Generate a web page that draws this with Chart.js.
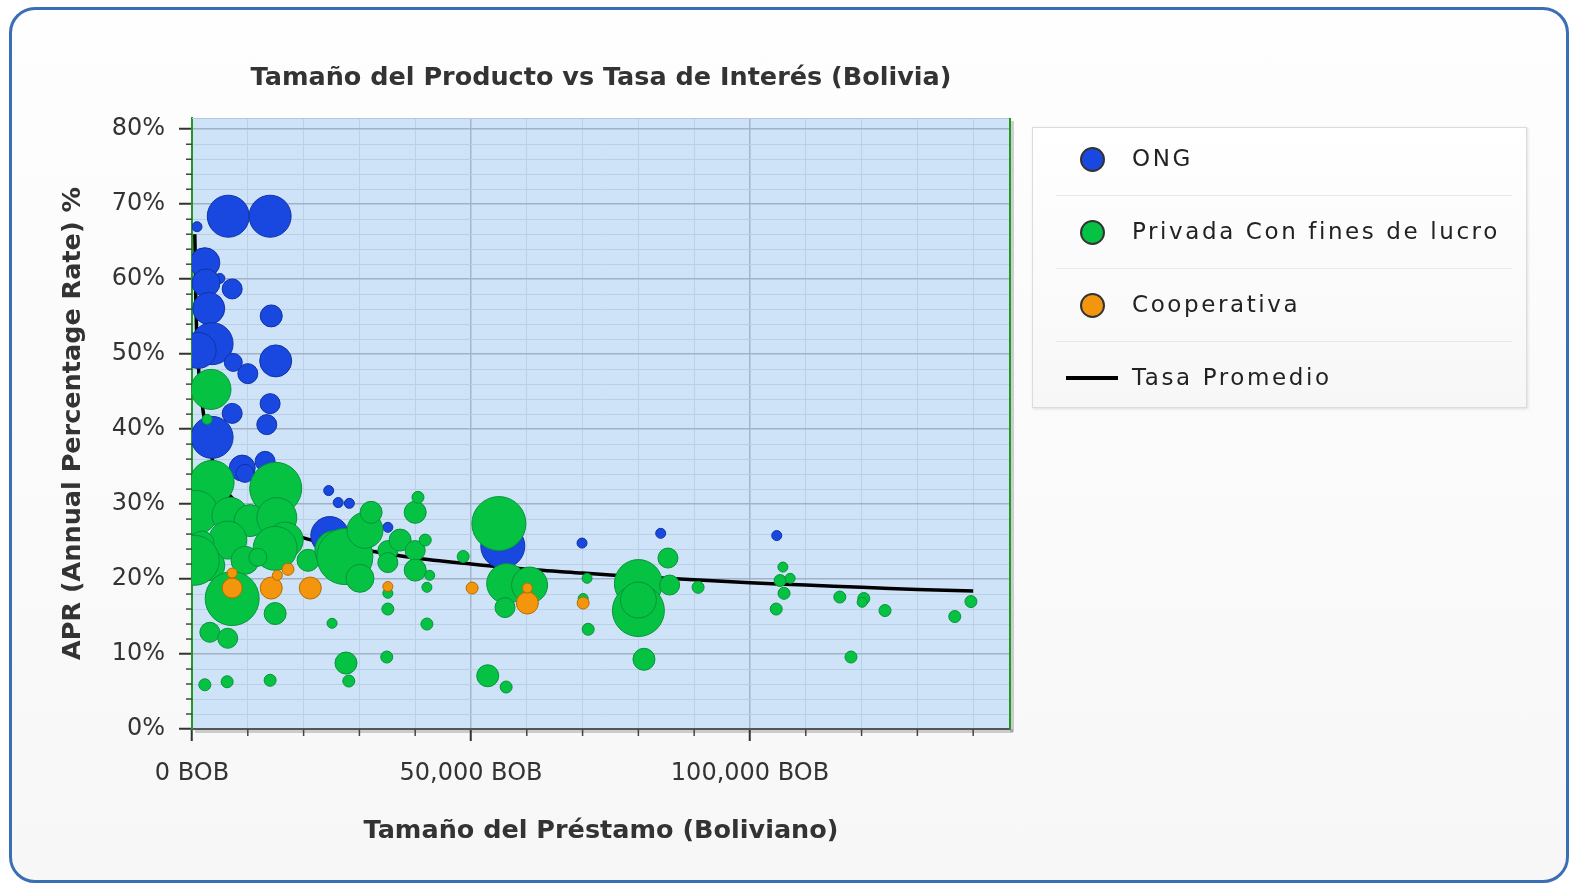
<!DOCTYPE html>
<html>
<head>
<meta charset="utf-8">
<title>Tamaño del Producto vs Tasa de Interés (Bolivia)</title>
<script src="https://cdn.jsdelivr.net/npm/chart.js@4.4.1/dist/chart.umd.min.js"></script>
<style>
  html, body { margin: 0; padding: 0; background: #fff; }
  body { width: 1571px; height: 885px; position: relative; overflow: hidden; font-family: 'DejaVu Sans', sans-serif; }
  .frame { position: absolute; left: 9px; top: 7px; width: 1554px; height: 870px; border: 3px solid #3a6fb5; border-radius: 26px; background: linear-gradient(#fefefe, #f7f7f7); }
  .chart-wrap { position: absolute; left: 0; top: 0; width: 1571px; height: 885px; }
  .legend { position: absolute; left: 1032px; top: 127px; width: 493px; height: 279px; border: 1px solid #dcdcdc; background: linear-gradient(#fff, #f7f7f7); box-shadow: 1px 1px 3px rgba(0,0,0,.12); }
  .legend-item { position: absolute; left: 23px; right: 14px; height: 72px; border-bottom: 1px solid #e8e8e8; }
  .legend-item:last-child { border-bottom: none; }
  .legend-item .mark { position: absolute; left: 24px; top: 24px; width: 21px; height: 21px; border-radius: 50%; border: 2px solid #333; }
  .legend-item .line { position: absolute; left: 10px; top: 34px; width: 52px; height: 4px; background: #000; }
  .legend-item .label { position: absolute; left: 76px; top: 22px; font-size: 23px; letter-spacing: 2.6px; color: #222; white-space: nowrap; }
</style>
</head>
<body>
<div class="frame"></div>
<div class="chart-wrap"><canvas id="aprChart"></canvas></div>
<div class="legend" id="legend"></div>
<script>
// Series names
const seriesNames = ['ONG', 'Privada Con fines de lucro', 'Cooperativa', 'Tasa Promedio'];

// ONG: loan size (BOB), APR (%), bubble radius
const ongLoan = [6500, 14000, 900, 2300, 5000, 2500, 7200, 3000, 14200, 3600, 1100, 15000, 7400, 10000, 7200, 14000, 13400, 3600, 9000, 13100, 9500, 24500, 26200, 28200, 35100, 24700, 55700, 69900, 84000, 104800];
const ongApr = [68.4, 68.4, 67.0, 62.2, 60.1, 59.5, 58.7, 56.1, 55.1, 51.4, 50.5, 49.1, 48.9, 47.4, 42.1, 43.4, 40.6, 38.9, 34.8, 35.7, 34.1, 31.8, 30.2, 30.1, 26.9, 25.8, 24.4, 24.8, 26.1, 25.8];
const ongR = [21, 21, 5, 15, 5, 14, 10, 16, 11, 21, 18, 16, 9, 10, 10, 10, 10, 21, 13, 10, 9, 5, 5, 5, 5, 19, 22, 5, 5, 5];

// Privada Con fines de lucro
const privLoan = [3400, 2700, 3600, 15000, 700, 6800, 10400, 15200, 6400, 1800, 16700, 14900, 9500, 11800, 3200, 400, 7200, 14900, 3200, 6400, 2300, 6300, 14000, 20800, 25100, 25600, 27400, 31000, 32100, 30100, 35100, 35100, 35100, 35100, 37300, 40000, 40000, 40000, 40500, 41800, 42100, 42600, 42100, 34900, 27600, 28100, 48600, 55000, 56400, 60500, 56100, 53000, 56300, 70800, 70100, 71000, 80000, 80000, 80000, 85300, 85600, 81000, 90700, 105900, 105400, 107200, 106100, 104700, 116100, 120400, 120100, 124200, 136700, 139600, 118100];
const privApr = [45.3, 41.3, 32.9, 32.1, 28.9, 28.5, 27.8, 28.2, 25.2, 24.8, 25.2, 24.1, 22.5, 22.9, 21.8, 22.5, 17.4, 15.4, 12.9, 12.1, 5.9, 6.3, 6.5, 22.5, 14.1, 23.8, 23.0, 26.5, 28.9, 20.1, 23.8, 22.2, 18.1, 16.0, 25.2, 23.8, 21.2, 28.9, 30.9, 25.2, 18.9, 20.5, 14.0, 9.6, 8.8, 6.4, 23.0, 27.4, 19.4, 19.2, 16.2, 7.1, 5.6, 20.1, 17.4, 13.3, 19.4, 15.8, 17.2, 22.8, 19.2, 9.3, 18.9, 21.6, 19.8, 20.1, 18.1, 16.0, 17.6, 17.4, 16.9, 15.8, 15.0, 17.0, 9.6];
const privR = [20, 5, 22, 26, 22, 18, 16, 20, 19, 12, 18, 22, 14, 9, 15, 25, 27, 11, 10, 10, 6, 6, 6, 11, 5, 20, 28, 18, 11, 14, 10, 10, 5, 6, 11, 10, 11, 11, 6, 6, 5, 5, 6, 6, 11, 6, 6, 27, 20, 18, 10, 11, 6, 5, 5, 6, 24, 26, 18, 10, 10, 11, 6, 5, 6, 5, 6, 6, 6, 6, 5, 6, 6, 6, 6];

// Cooperativa
const coopLoan = [7200, 7200, 14200, 15300, 17200, 21200, 35100, 50200, 60100, 60100, 70100];
const coopApr = [18.8, 20.8, 18.8, 20.5, 21.3, 18.8, 19.0, 18.8, 16.8, 18.8, 16.8];
const coopR = [10, 5, 11, 5, 6, 11, 5, 6, 11, 5, 6];

// Tasa Promedio (average rate curve)
const avgLoan = [500, 1000, 2500, 5000, 10000, 20000, 30000, 40000, 50000, 60000, 70000, 80000, 90000, 100000, 110000, 120000, 130000, 140000];
const avgApr = [66, 50, 40, 33, 29, 25.5, 24, 22.8, 22, 21.3, 20.8, 20.3, 19.9, 19.5, 19.2, 18.9, 18.6, 18.4];

// Axis ticks
const yMax = 81.5;
const xMax = 146600;
const yTickStep = 2;
const xTickStep = 10000;

const seriesColors = ['#1848df', '#06c243', '#f3960d', '#000000'];
const seriesBorders = ['#0f33a6', '#07933a', '#b56d00', '#000000'];

function toBubbles(xs, ys, rs) {
    return xs.map((x, i) => ({ x: x, y: ys[i], r: rs[i] }));
}

function tickList(max, step) {
    const list = [];
    for (let v = 0; v <= max; v += step) list.push({ value: v });
    return list;
}

// Plot area background, frame and minor tick marks
const plotFrame = {
    id: 'plotFrame',
    beforeDraw(chart) {
        const { ctx, chartArea: a } = chart;
        ctx.save();
        ctx.fillStyle = 'rgba(0,0,0,0.18)';
        ctx.fillRect(a.left + 3, a.bottom, a.right - a.left, 4);
        ctx.fillRect(a.right, a.top + 3, 4, a.bottom - a.top);
        ctx.fillStyle = '#cfe3f8';
        ctx.fillRect(a.left, a.top, a.right - a.left, a.bottom - a.top);
        ctx.restore();
    },
    afterDraw(chart) {
        const { ctx, chartArea: a, scales } = chart;
        ctx.save();
        ctx.strokeStyle = '#b3c8dd';
        ctx.lineWidth = 1;
        ctx.beginPath();
        ctx.moveTo(a.left, a.top + 0.5);
        ctx.lineTo(a.right, a.top + 0.5);
        ctx.stroke();
        ctx.strokeStyle = '#1f9a1f';
        ctx.lineWidth = 2;
        ctx.beginPath();
        ctx.moveTo(a.right, a.top);
        ctx.lineTo(a.right, a.bottom);
        ctx.stroke();
        ctx.strokeStyle = '#444';
        ctx.lineWidth = 1.5;
        scales.y.ticks.forEach(t => {
            if (t.value % 10 === 0) return;
            const y = scales.y.getPixelForValue(t.value);
            ctx.beginPath();
            ctx.moveTo(a.left - 6, y);
            ctx.lineTo(a.left, y);
            ctx.stroke();
        });
        scales.x.ticks.forEach(t => {
            if (t.value % 50000 === 0) return;
            const x = scales.x.getPixelForValue(t.value);
            ctx.beginPath();
            ctx.moveTo(x, a.bottom);
            ctx.lineTo(x, a.bottom + 7);
            ctx.stroke();
        });
        ctx.restore();
    }
};

Chart.defaults.font.family = "'DejaVu Sans', sans-serif";
Chart.defaults.color = '#333';

const ctx = document.getElementById('aprChart').getContext('2d');
const aprChart = new Chart(ctx, {
    type: 'bubble',
    data: {
        datasets: [
            {
                label: seriesNames[0],
                data: toBubbles(ongLoan, ongApr, ongR),
                backgroundColor: seriesColors[0],
                borderColor: seriesBorders[0],
                borderWidth: 1,
                clip: 0,
                order: 2
            },
            {
                label: seriesNames[1],
                data: toBubbles(privLoan, privApr, privR),
                backgroundColor: seriesColors[1],
                borderColor: seriesBorders[1],
                borderWidth: 1,
                clip: 0,
                order: 1
            },
            {
                label: seriesNames[2],
                data: toBubbles(coopLoan, coopApr, coopR),
                backgroundColor: seriesColors[2],
                borderColor: seriesBorders[2],
                borderWidth: 1,
                clip: 0,
                order: 0
            },
            {
                type: 'line',
                label: seriesNames[3],
                data: avgLoan.map((x, i) => ({ x: x, y: avgApr[i] })),
                borderColor: seriesColors[3],
                borderWidth: 3.5,
                pointRadius: 0,
                tension: 0.3,
                fill: false,
                clip: 0,
                order: 3
            }
        ]
    },
    options: {
        responsive: true,
        maintainAspectRatio: false,
        animation: false,
        layout: {
            padding: { left: 0, right: 561, top: 0, bottom: 0 }
        },
        plugins: {
            legend: { display: false },
            tooltip: { enabled: false },
            title: {
                display: true,
                text: 'Tamaño del Producto vs Tasa de Interés (Bolivia)',
                fullSize: false,
                color: '#333',
                font: { size: 25.5, weight: 'bold' },
                padding: { top: 62.7, bottom: 24.7 }
            }
        },
        scales: {
            x: {
                type: 'linear',
                min: 0,
                max: xMax,
                afterBuildTicks: s => { s.ticks = tickList(140000, xTickStep); },
                afterFit: s => { s.height = 156; },
                ticks: {
                    autoSkip: false,
                    maxRotation: 0,
                    minRotation: 0,
                    padding: 18,
                    color: '#333',
                    font: { size: 24 },
                    callback: v => v % 50000 === 0 ? v.toLocaleString('en-US') + ' BOB' : ''
                },
                grid: {
                    color: c => c.tick && c.tick.value % 50000 === 0 ? '#a3b6ca' : '#bad1e8',
                    lineWidth: c => c.tick && c.tick.value % 50000 === 0 ? 1.5 : 1,
                    tickLength: 12,
                    tickColor: c => c.tick && c.tick.value % 50000 === 0 ? '#333' : 'rgba(0,0,0,0)',
                    tickWidth: 2
                },
                border: { display: true, color: '#555', width: 2 },
                title: {
                    display: true,
                    text: 'Tamaño del Préstamo (Boliviano)',
                    color: '#333',
                    font: { size: 25.5, weight: 'bold' },
                    padding: { top: 0, bottom: 38.7 }
                }
            },
            y: {
                type: 'linear',
                min: 0,
                max: yMax,
                afterBuildTicks: s => { s.ticks = tickList(80, yTickStep); },
                afterFit: s => { s.width = 192; },
                ticks: {
                    autoSkip: false,
                    padding: 14,
                    color: '#333',
                    font: { size: 24 },
                    callback: v => v % 10 === 0 ? v + '%' : ''
                },
                grid: {
                    color: c => c.tick && c.tick.value % 10 === 0 ? '#9fb2c6' : '#b8cfe6',
                    lineWidth: c => c.tick && c.tick.value % 10 === 0 ? 1.5 : 1,
                    tickLength: 13,
                    tickColor: c => c.tick && c.tick.value % 10 === 0 ? '#333' : 'rgba(0,0,0,0)',
                    tickWidth: 2
                },
                border: { display: true, color: '#1f9a1f', width: 2 },
                title: {
                    display: true,
                    text: 'APR (Annual Percentage Rate) %',
                    color: '#333',
                    font: { size: 25.5, weight: 'bold' },
                    padding: { top: 58, bottom: 0 }
                }
            }
        }
    },
    plugins: [plotFrame]
});

// Legend built from the dataset definitions
const legendBox = document.getElementById('legend');
aprChart.data.datasets.forEach((ds, i) => {
    const item = document.createElement('div');
    item.className = 'legend-item';
    item.style.top = (73 * i - 5) + 'px';
    const mark = document.createElement('div');
    if (ds.type === 'line') {
        mark.className = 'line';
    } else {
        mark.className = 'mark';
        mark.style.background = ds.backgroundColor;
    }
    const label = document.createElement('div');
    label.className = 'label';
    label.textContent = ds.label;
    item.appendChild(mark);
    item.appendChild(label);
    legendBox.appendChild(item);
});
</script>
</body>
</html>
